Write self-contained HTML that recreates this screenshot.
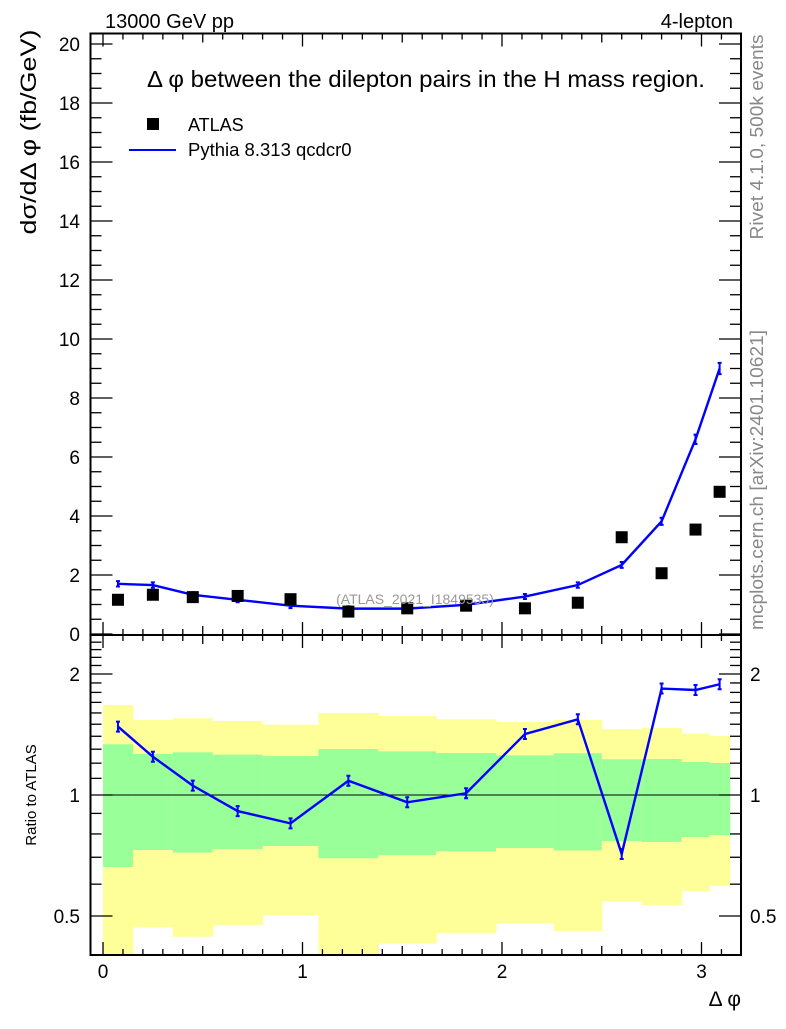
<!DOCTYPE html>
<html><head><meta charset="utf-8"><style>
body{margin:0;background:#fff}
svg text{font-family:"Liberation Sans",sans-serif}
</style></head><body>
<svg id="c" width="786" height="1024" xmlns="http://www.w3.org/2000/svg">
<g id="bands"></g>
<g id="marks"></g>
<g id="axes"></g>
<text x="105" y="28" font-size="20">13000 GeV pp</text>
<text x="733" y="28" font-size="20" text-anchor="end">4-lepton</text>
<text x="426" y="87" font-size="23" text-anchor="middle" textLength="558" lengthAdjust="spacingAndGlyphs">Δ φ between the dilepton pairs in the H mass region.</text>
<rect x="147" y="118" width="12" height="12" fill="#000"/>
<text x="188" y="131" font-size="18">ATLAS</text>
<line x1="129" y1="150" x2="176" y2="150" stroke="#00f" stroke-width="2"/>
<text x="188" y="156" font-size="18.5">Pythia 8.313 qcdcr0</text>
<text x="415" y="604" font-size="14" fill="#999" text-anchor="middle">(ATLAS_2021_I1849535)</text>
<text transform="translate(36,132) rotate(-90)" font-size="22" text-anchor="middle" textLength="205" lengthAdjust="spacingAndGlyphs">dσ/dΔ φ (fb/GeV)</text>
<text transform="translate(36,795) rotate(-90)" font-size="15" text-anchor="middle">Ratio to ATLAS</text>
<text transform="translate(763,137) rotate(-90)" font-size="18" fill="#888" text-anchor="middle" textLength="205" lengthAdjust="spacingAndGlyphs">Rivet 4.1.0,  500k events</text>
<text transform="translate(763,480) rotate(-90)" font-size="18" fill="#888" text-anchor="middle" textLength="300" lengthAdjust="spacingAndGlyphs">mcplots.cern.ch [arXiv:2401.10621]</text>
<text x="741" y="1006" font-size="21" text-anchor="end">Δ φ</text>
</svg>
<script>
const edges=[0,0.15,0.35,0.55,0.8,1.08,1.38,1.67,1.97,2.26,2.5,2.7,2.9,3.04,3.1416];
const dataVals=[1.16,1.33,1.25,1.29,1.18,0.76,0.87,0.96,0.87,1.06,3.28,2.06,3.54,4.82];
const mcVals=[1.70,1.66,1.33,1.16,0.96,0.86,0.86,0.99,1.27,1.66,2.34,3.82,6.6,9.0];
const ratioVals=[1.48,1.245,1.055,0.912,0.85,1.085,0.959,1.01,1.418,1.543,0.713,1.84,1.825,1.886];
const greenHi=[1.337,1.265,1.277,1.26,1.25,1.301,1.284,1.272,1.255,1.27,1.227,1.229,1.208,1.201];
const greenLo=[0.662,0.730,0.719,0.734,0.747,0.696,0.709,0.724,0.738,0.728,0.768,0.764,0.786,0.795];
const yellowHi=[1.675,1.537,1.552,1.528,1.496,1.60,1.572,1.542,1.519,1.537,1.459,1.468,1.421,1.402];
const yellowLo=[0.3,0.468,0.444,0.475,0.502,0.3,0.427,0.454,0.479,0.459,0.543,0.532,0.577,0.594];
const xTicks=[0,1,2,3];
const yTicks=[0,2,4,6,8,10,12,14,16,18,20];
const rTicks=[0.5,1,2];
const NS="http://www.w3.org/2000/svg";
const X0=90.5,X1=741,M0=33.5,M1=635,R1=955;
const sx=v=>103+v*199.5;
const sy=v=>634-v*29.5;
const sr=v=>795-Math.log2(v)*121;
const clampR=v=>Math.min(Math.max(sr(v),M1),R1);
function mk(p,t,a){const e=document.createElementNS(NS,t);for(const k in a)e.setAttribute(k,a[k]);p.appendChild(e);return e;}
const bands=document.getElementById('bands'),marks=document.getElementById('marks'),axes=document.getElementById('axes');
for(let i=0;i<edges.length-1;i++){
  const x=sx(edges[i]),w=sx(edges[i+1])-x;
  let r=mk(bands,'rect',{x:x,y:clampR(yellowHi[i]),width:w+0.5,height:clampR(yellowLo[i])-clampR(yellowHi[i]),fill:'#ffff99'});
  
  
  r=mk(bands,'rect',{x:x,y:clampR(greenHi[i]),width:w+0.5,height:clampR(greenLo[i])-clampR(greenHi[i]),fill:'#99ff99'});
  
  
}
let l=mk(marks,'line',{x1:X0,x2:X1,y1:sr(1),y2:sr(1),stroke:'#000','stroke-width':1});


const mids=edges.slice(0,-1).map((e,i)=>(e+edges[i+1])/2);
let pts=mids.map((m,i)=>sx(m)+','+sy(mcVals[i])).join(' ');
let pl=mk(marks,'polyline',{points:pts,fill:'none',stroke:'#00f','stroke-width':2.4});


pts=mids.map((m,i)=>sx(m)+','+sr(ratioVals[i])).join(' ');
pl=mk(marks,'polyline',{points:pts,fill:'none',stroke:'#00f','stroke-width':2.4});


function ebar(x,y,h,name){
  let e=mk(marks,'path',{d:`M${x},${y-h}V${y+h}M${x-2},${y-h}H${x+2}M${x-2},${y+h}H${x+2}`,stroke:'#00f','stroke-width':2,fill:'none'});
  
  
}
mids.forEach((m,i)=>{
  ebar(sx(m),sr(ratioVals[i]),5,'ratio-errorbar');
  ebar(sx(m),sy(mcVals[i]),2+mcVals[i]*0.4,'pythia-errorbar');
  let e=mk(marks,'rect',{x:sx(m)-6,y:sy(dataVals[i])-6,width:12,height:12,fill:'#000'});
  
  
});
let f=mk(axes,'rect',{x:X0,y:M0,width:X1-X0,height:M1-M0,fill:'none',stroke:'#000','stroke-width':2});


f=mk(axes,'rect',{x:X0,y:M1,width:X1-X0,height:R1-M1,fill:'none',stroke:'#000','stroke-width':2});


function tk(x1,y1,x2,y2){mk(axes,'line',{x1,y1,x2,y2,stroke:'#000','stroke-width':1.3});}
for(let k=0;k<=31;k++){const v=k/10,x=sx(v),L=(k%10==0)?13:(k%5==0?9:6);
  tk(x,M1,x,M1-L);tk(x,M0,x,M0+L);tk(x,R1,x,R1-L);tk(x,M1,x,M1+L);}
for(let k=0;k<=40;k++){const v=k/2,y=sy(v);if(y<M0)continue;const L=(k%4==0)?22:11;tk(X0,y,X0+L,y);tk(X1,y,X1-L,y);}
for(let v=0.4;v<=2.51;v+=0.1){const y=sr(v);if(y<M1||y>R1)continue;const maj=rTicks.some(t=>Math.abs(t-v)<1e-6);const L=maj?22:11;tk(X0,y,X0+L,y);tk(X1,y,X1-L,y);}
yTicks.forEach(v=>{const t=mk(axes,'text',{x:80,y:sy(v)+7,'font-size':19,'text-anchor':'end'});t.textContent=v;
  
  });
rTicks.forEach(v=>{let t=mk(axes,'text',{x:80,y:sr(v)+7,'font-size':19,'text-anchor':'end'});t.textContent=v;
  
  
  t=mk(axes,'text',{x:750,y:sr(v)+7,'font-size':19});t.textContent=v;
  
  });
xTicks.forEach(v=>{const t=mk(axes,'text',{x:sx(v),y:978,'font-size':19,'text-anchor':'middle'});t.textContent=v;
  
  });
</script>
</body></html>
